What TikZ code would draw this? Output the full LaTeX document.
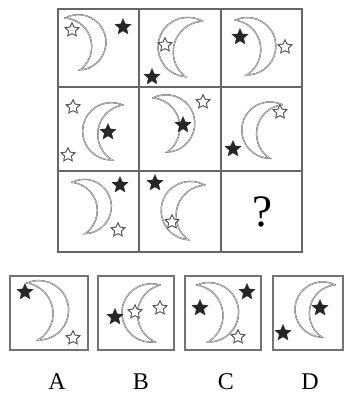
\documentclass[tikz,border=0pt]{standalone}
\usepackage{fontspec}
\setmainfont{Liberation Serif}
\usetikzlibrary{shapes.geometric}
\tikzset{
  gridline/.style={draw=black!60, line width=1.3pt},
  optbox/.style={draw=black!55, line width=1.7pt},
  moonline/.style={draw=black!60, line width=0.5pt, double=black!8, double distance=0.4pt, fill=white},
  bstar/.style={star, star points=5, star point ratio=2.2, minimum size=17pt, inner sep=0pt, fill=black!85, draw=black!85, line width=0.3pt},
  wstar/.style={star, star points=5, star point ratio=2.0, minimum size=14.5pt, inner sep=0pt, fill=white, draw=black!70, line width=0.9pt},
  lbl/.style={inner sep=0pt, font=\fontsize{24}{24}\selectfont},
}
% x, y, rotation, half-height, mirror (1 = ")", -1 = "(")
\newcommand{\moonat}[5]{%
  \begin{scope}[shift={(#1,#2)}, rotate=#3, scale=#4, xscale=#5]
    \draw[moonline] (0,-1) arc[start angle=-102.68, end angle=102.68, radius=1.025]
      arc[start angle=69.98, end angle=-69.98, radius=1.0643] -- cycle;
  \end{scope}}
\begin{document}
\begin{tikzpicture}[x=1pt, y=-1pt]
\useasboundingbox (0,0) rectangle (345,394);
% grid
\draw[gridline] (58,9) rectangle (302,252);
\draw[gridline] (139,9) -- (139,252);
\draw[gridline] (221,9) -- (221,252);
\draw[gridline] (58,87) -- (302,87);
\draw[gridline] (58,171) -- (302,171);
% row 1
\moonat{72.5}{44}{16}{27}{1}
\node[wstar] (w11) at (72,30) {};
\node[bstar] (b11) at (123,27) {};
\moonat{194}{49}{-17}{29}{-1}
\node[wstar] (w12) at (165,45) {};
\node[bstar] (b12) at (152,77) {};
\moonat{241}{47.5}{12}{28}{1}
\node[bstar] (b13) at (240,37) {};
\node[wstar] (w13) at (285,47) {};
% row 2
\moonat{117.5}{132.5}{-11}{28}{-1}
\node[bstar] (b21) at (108,132) {};
\node[wstar] (w21a) at (73,107) {};
\node[wstar] (w21b) at (68,155) {};
\moonat{160}{125}{14.5}{28}{1}
\node[bstar] (b22) at (183,125) {};
\node[wstar] (w22) at (203,102) {};
\moonat{276}{131.5}{-13}{27.5}{-1}
\node[wstar] (w23) at (280,112) {};
\node[bstar] (b23) at (233,149) {};
% row 3
\moonat{78.5}{208}{14.5}{26.5}{1}
\node[bstar] (b31) at (120,185) {};
\node[wstar] (w31) at (118,230) {};
\moonat{196.5}{212.5}{-17}{28.5}{-1}
\node[bstar] (b32) at (155,183) {};
\node[wstar] (w32) at (172,222) {};
\node[inner sep=0pt, font=\fontsize{45}{45}\selectfont] (q) at (262,212) {?};
% options
\draw[optbox] (10,276) rectangle (88,350);
\draw[optbox] (98,276) rectangle (174,350);
\draw[optbox] (185,276) rectangle (261,350);
\draw[optbox] (273,276) rectangle (343,350);
\moonat{32.5}{311.5}{11}{29}{1}
\node[bstar] (bA) at (25,292) {};
\node[wstar] (wA) at (73,338) {};
\moonat{157.5}{313.5}{-5}{28.5}{-1}
\node[bstar] (bB) at (115,317) {};
\node[wstar] (wB1) at (135,312) {};
\node[wstar] (wB2) at (160,308) {};
\moonat{202.5}{313.5}{11}{29}{1}
\node[bstar] (bC1) at (200,308) {};
\node[bstar] (bC2) at (247,292) {};
\node[wstar] (wC) at (238,337) {};
\moonat{328.5}{311}{-14}{27}{-1}
\node[bstar] (bD1) at (320,308) {};
\node[bstar] (bD2) at (283,333) {};
% labels
\node[lbl] (lA) at (57,382) {A};
\node[lbl] (lB) at (141,382) {B};
\node[lbl] (lC) at (226,382) {C};
\node[lbl] (lD) at (310,382) {D};
\end{tikzpicture}
\end{document}
